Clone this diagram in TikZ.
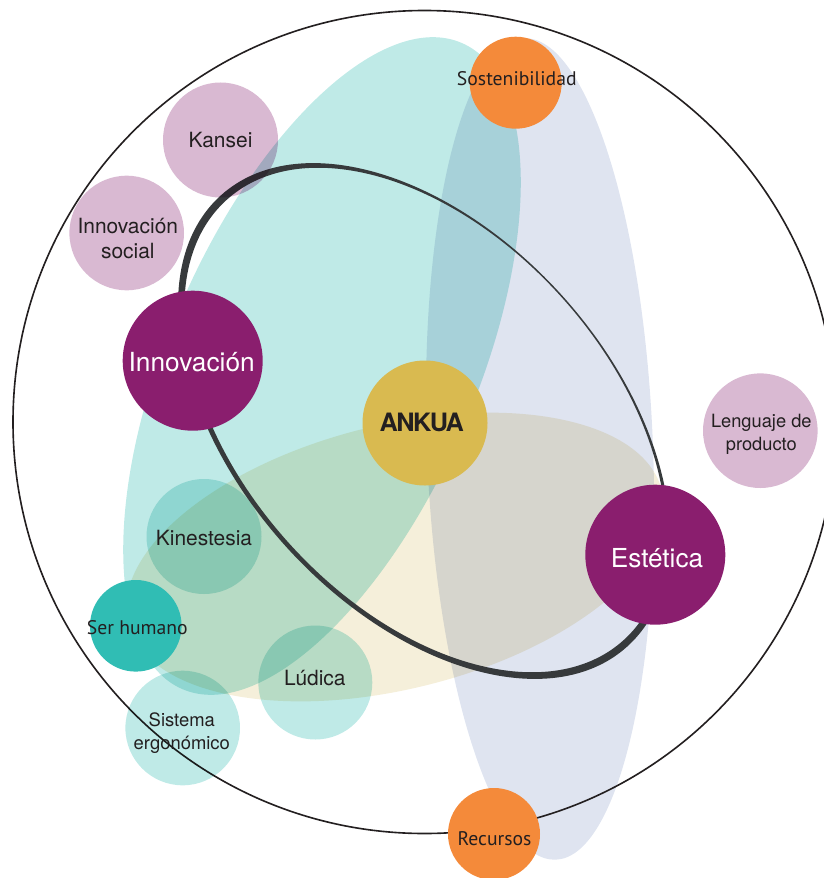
\documentclass[tikz,border=0pt]{standalone}
\usepackage{fontspec}
\setmainfont{TeX Gyre Heros}
\newfontfamily\humanist{PT Sans}
\usetikzlibrary{calc}

\definecolor{cteal}{HTML}{BFEAE7}
\definecolor{cblue}{HTML}{DFE4F0}
\definecolor{cbeige}{HTML}{F5EFDA}
\definecolor{cpink}{HTML}{D9B9D2}
\definecolor{cpurple}{HTML}{8A1E6E}
\definecolor{corange}{HTML}{F48A3A}
\definecolor{cgold}{HTML}{D9BA50}
\definecolor{cdteal}{HTML}{30BDB4}
\definecolor{cline}{HTML}{373A3C}
\definecolor{ctext}{HTML}{231F20}

\begin{document}
\begin{tikzpicture}[x=0.25mm, y=-0.25mm,
  disc/.style={circle, draw=none, inner sep=0pt, outer sep=0pt, minimum size=#1*0.5mm},
  lab/.style={text=ctext, inner sep=0pt, outer sep=0pt, anchor=base, align=center},
  wlab/.style={lab, text=white},
  fbig/.style={font=\fontsize{18.7}{22}\selectfont},
  fmid/.style={font=\fontsize{14.9}{17.8}\selectfont},
  fsmall/.style={font=\fontsize{13}{16.1}\selectfont},
  fhum/.style={font=\humanist\fontsize{14}{17}\selectfont}
]
\useasboundingbox (0,0) rectangle (824,878);

% overlapping fields
\begin{scope}[blend mode=multiply]
  \fill[cteal, rotate around={66.6:(322,366)}] (322,366) ellipse [x radius=352, y radius=154];
  \fill[cblue, rotate around={92.2:(540,449)}] (540,449) ellipse [x radius=411, y radius=113];
  \fill[cbeige, rotate around={14:(395,557)}] (395,557) ellipse [x radius=275, y radius=132];
\end{scope}

% brush-like inner ring (thin towards the upper right)
\fill[cline, even odd rule, shift={(424,421)}, rotate=-48]
  (0,0) ellipse [x radius=303.6, y radius=186.6]
  (0,-1.5) ellipse [x radius=296.4, y radius=183.6];

% outer boundary
\draw[ctext, line width=1.15pt] (424.5,422) circle [radius=411.5];

% translucent satellites
\begin{scope}[blend mode=multiply]
  \node[disc=57.5, fill=cpink] (kansei) at (220.5,140) {};
  \node[disc=57.3, fill=cpink] (isocial) at (126.7,233) {};
  \node[disc=57.3, fill=cpink] (lenguaje) at (760.3,430.7) {};
  \node[disc=57.5, fill=cteal] (kines) at (204,536.5) {};
  \node[disc=57, fill=cteal] (ludica) at (315.3,682.5) {};
  \node[disc=57.3, fill=cteal] (sistema) at (182.7,728) {};
\end{scope}

% solid nodes
\node[disc=70, fill=cpurple] (innov) at (192.7,360.7) {};
\node[disc=70, fill=cpurple] (estetica) at (655.3,554.7) {};
\node[disc=62.5, fill=cgold] (ankua) at (425,423) {};
\node[disc=46, fill=corange] (sost) at (515.7,82.7) {};
\node[disc=46, fill=corange] (recursos) at (494,834) {};
\node[disc=45.8, fill=cdteal] (ser) at (135.8,625.8) {};

% labels (multi-line labels sit on the baseline of their last line)
\node[lab, fmid] (t-kansei) at (220.5,147.7) {Kansei};
\node[lab, fmid] (t-isocial) at (127.8,258.3) {Innovación\\social};
\node[wlab, fbig] (t-innov) at (191.7,371.7) {Innovación};
\node[lab, fhum] (t-sost) at (516.8,86) {Sostenibilidad};
\node[lab, font=\fontsize{18}{18}\selectfont\bfseries\addfontfeature{LetterSpace=-6}] (t-ankua) at (421.7,431.7) {ANKUA};
\node[lab, fsmall] (t-lenguaje) at (761.3,450) {Lenguaje de\\producto};
\node[wlab, font=\fontsize{18.6}{22}\selectfont] (t-estetica) at (657,567) {Estética};
\node[lab, fmid] (t-kines) at (204,545.3) {Kinestesia};
\node[lab, fhum] (t-ser) at (137.3,634.7) {Ser humano};
\node[lab, fmid] (t-ludica) at (314.8,685.3) {Lúdica};
\node[lab, font=\fontsize{13.1}{15.9}\selectfont] (t-sistema) at (181.8,749) {Sistema\\ergonómico};
\node[lab, fhum] (t-recursos) at (494.5,845.3) {Recursos};
\end{tikzpicture}
\end{document}
